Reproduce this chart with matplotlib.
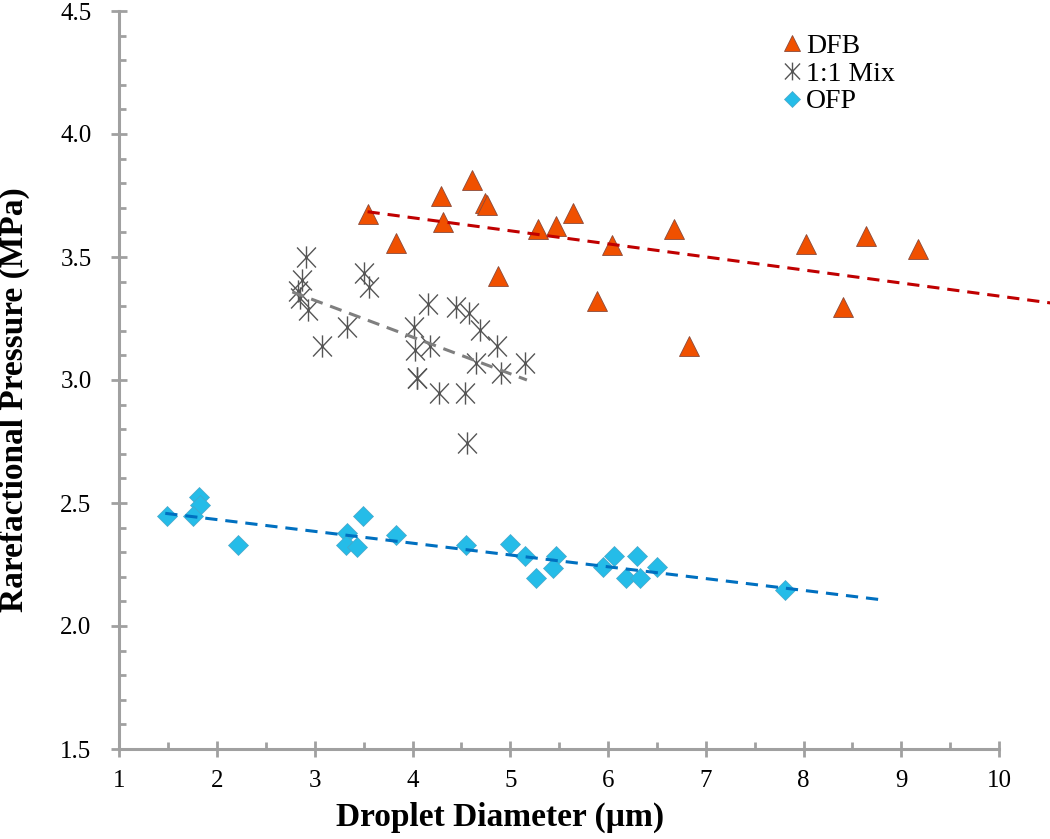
import numpy as np
import matplotlib
matplotlib.use("Agg")
import matplotlib.pyplot as plt
from matplotlib.path import Path

plt.rcParams['font.family'] = ['Liberation Serif', 'DejaVu Serif']

# DFB
dfb_x = [3.54, 3.83, 4.29, 4.31, 4.605, 4.74, 4.76, 4.87, 5.28, 5.47, 5.645,
         6.04, 6.67, 5.89, 6.83, 8.025, 8.64, 8.40, 9.17]
dfb_y = [3.674, 3.557, 3.749, 3.641, 3.815, 3.72, 3.71, 3.422, 3.615, 3.628, 3.68,
         3.55, 3.615, 3.32, 3.137, 3.551, 3.584, 3.297, 3.534]

# 1:1 Mix
mix_x = [2.91, 2.865, 2.83, 2.85, 2.93, 3.50, 3.55, 3.33, 3.07, 4.16, 4.01, 4.03,
         4.18, 4.045, 4.045, 4.27, 4.54, 4.555, 4.445, 4.58, 4.69, 4.65, 4.86, 4.91, 5.15]
mix_y = [3.501, 3.407, 3.36, 3.332, 3.285, 3.434, 3.379, 3.214, 3.138, 3.309, 3.217, 3.122,
         3.138, 3.007, 3.007, 2.946, 2.946, 2.743, 3.298, 3.271, 3.203, 3.068, 3.138, 3.027, 3.068]

# OFP
ofp_x = [1.485, 1.82, 1.825, 1.75, 2.21, 3.49, 3.325, 3.32, 3.43, 3.83, 4.55,
         5.0, 5.15, 5.26, 5.465, 5.44, 5.95, 6.06, 6.18, 6.30, 6.33, 6.50, 7.81]
ofp_y = [2.447, 2.523, 2.492, 2.447, 2.329, 2.447, 2.377, 2.329, 2.322, 2.37, 2.329,
         2.333, 2.285, 2.194, 2.285, 2.235, 2.241, 2.285, 2.194, 2.285, 2.194, 2.241, 2.146]

# linear trendlines (ends)
dfb_fit_x = [3.54, 10.55]
dfb_fit_y = [3.684, 3.312]
mix_fit_x = [2.77, 5.17]
mix_fit_y = [3.358, 3.0]
ofp_fit_x = [1.47, 8.83]
ofp_fit_y = [2.458, 2.105]

x_ticks = [1, 2, 3, 4, 5, 6, 7, 8, 9, 10]
y_ticks = [1.5, 2.0, 2.5, 3.0, 3.5, 4.0, 4.5]

fig = plt.figure(figsize=(10.5, 8.39), dpi=100)
ax = fig.add_axes([119.3 / 1050, 90 / 839, 879.7 / 1050, 738 / 839])

# asterisk marker like excel's (vertical line + X)
star = Path([(0, -1), (0, 1), (-0.85, -0.9), (0.85, 0.9), (-0.85, 0.9), (0.85, -0.9)],
            [Path.MOVETO, Path.LINETO, Path.MOVETO, Path.LINETO, Path.MOVETO, Path.LINETO])

ax.plot(dfb_x, dfb_y, ls='none', marker='^', ms=15, mfc='#f05000', mec='#8a4a3a', mew=0.6,
        label='DFB', zorder=3)
ax.plot(mix_x, mix_y, ls='none', marker=star, ms=16, mfc='none', mec='#555555', mew=1.0,
        label='1:1 Mix', zorder=3)
ax.plot(ofp_x, ofp_y, ls='none', marker='D', ms=10, mfc='#25bce8', mec='#4aa6c8', mew=0.5,
        label='OFP', zorder=3)

dash = (0, (4, 2.6))
ax.plot(dfb_fit_x, dfb_fit_y, color='#c00000', lw=2.2, ls=dash, clip_on=False, zorder=4)
ax.plot(mix_fit_x, mix_fit_y, color='#7f7f7f', lw=2.2, ls=dash, zorder=4)
ax.plot(ofp_fit_x, ofp_fit_y, color='#0070c0', lw=2.2, ls=dash, zorder=4)

ax.set_xlim(1, 10)
ax.set_ylim(1.5, 4.5)
ax.set_xticks(x_ticks)
ax.set_yticks(y_ticks)
ax.set_yticklabels([f'{v:.1f}' for v in y_ticks])
ax.set_xticks(np.arange(1.5, 10, 1.0), minor=True)
ax.set_yticks(np.arange(1.6, 4.5, 0.1), minor=True)

for s in ['top', 'right']:
    ax.spines[s].set_visible(False)
for s in ['left', 'bottom']:
    ax.spines[s].set_color('#a0a0a0')
    ax.spines[s].set_linewidth(2.2)

ax.tick_params(which='major', direction='inout', length=12, width=2.0, color='#a0a0a0',
               labelsize=18, labelcolor='black')
ax.tick_params(axis='y', which='major', pad=14)
ax.tick_params(axis='x', which='major', pad=9)
ax.tick_params(which='minor', direction='in', length=5, width=2.0, color='#a0a0a0')

ax.set_xlabel('Droplet Diameter (µm)', fontsize=24, fontweight='bold')
ax.set_ylabel('Rarefactional Pressure (MPa)', fontsize=24, fontweight='bold')
ax.xaxis.set_label_coords(0.4326, -0.0709)
ax.yaxis.set_label_coords(-0.1015, 0.473)

ax.legend(loc='upper left', bbox_to_anchor=(782 / 1050, 1 - 33.5 / 839), bbox_transform=fig.transFigure,
          frameon=False, fontsize=20, handlelength=0.7, handletextpad=0.155, labelspacing=0.08,
          borderpad=0, borderaxespad=0, markerscale=0.8)

fig.savefig('out.png', dpi=100)
